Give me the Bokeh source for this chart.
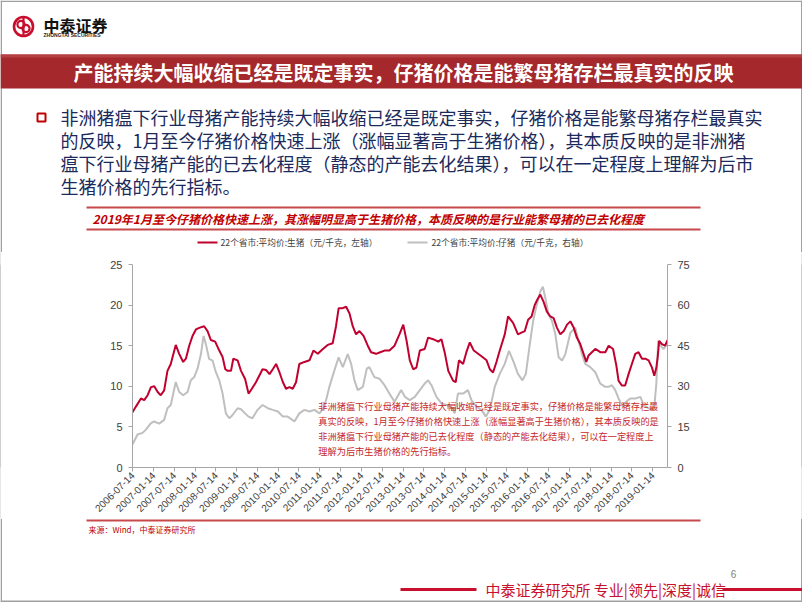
import numpy as np
from datetime import datetime
from math import pi
from bokeh.plotting import figure
from bokeh.models import Range1d, LinearAxis, FixedTicker, DatetimeTickFormatter, Label
from bokeh.layouts import column, row
from bokeh.embed import file_html
from bokeh.resources import INLINE
from bokeh.core.properties import value

# ---------------- data ----------------
hog_dates = [
    "2006-07-14", "2006-08-13", "2006-09-26", "2006-10-25", "2006-11-24", "2006-12-23",
    "2007-01-21", "2007-02-20", "2007-03-19", "2007-04-18", "2007-05-17", "2007-06-15",
    "2007-07-29", "2007-08-28", "2007-10-02", "2007-10-26", "2007-11-24", "2007-12-23",
    "2008-01-22", "2008-02-20", "2008-04-03", "2008-05-03", "2008-06-01", "2008-07-09",
    "2008-08-14", "2008-09-12", "2008-10-06", "2008-10-27", "2008-11-25", "2008-12-15",
    "2009-01-22", "2009-02-21", "2009-03-29", "2009-04-28", "2009-05-27", "2009-07-02",
    "2009-07-31", "2009-08-29", "2009-09-30", "2009-10-29", "2009-11-27", "2009-12-26",
    "2010-01-25", "2010-02-24", "2010-03-23", "2010-04-22", "2010-05-21", "2010-06-19",
    "2010-07-18", "2010-09-01", "2010-10-15", "2010-11-19", "2010-12-27", "2011-02-10",
    "2011-03-24", "2011-05-07", "2011-06-05", "2011-06-28", "2011-07-28", "2011-09-02",
    "2011-10-01", "2011-10-30", "2011-11-28", "2011-12-28", "2012-02-02", "2012-03-10",
    "2012-04-08", "2012-05-22", "2012-06-27", "2012-08-04", "2012-09-16", "2012-10-31",
    "2012-12-13", "2013-01-16", "2013-02-14", "2013-03-14", "2013-04-13", "2013-05-11",
    "2013-06-10", "2013-07-23", "2013-08-22", "2013-10-05", "2013-11-19", "2013-12-17",
    "2014-01-17", "2014-02-15", "2014-03-29", "2014-04-21", "2014-05-20", "2014-06-25",
    "2014-07-24", "2014-08-23", "2014-09-27", "2014-11-04", "2014-12-12", "2015-01-17",
    "2015-02-15", "2015-03-15", "2015-04-14", "2015-05-13", "2015-06-26", "2015-07-25",
    "2015-09-07", "2015-10-20", "2015-11-19", "2015-12-19", "2016-01-17", "2016-02-16",
    "2016-03-15", "2016-04-04", "2016-05-03", "2016-06-01", "2016-06-30", "2016-07-30",
    "2016-08-28", "2016-09-27", "2016-10-26", "2016-11-25", "2016-12-24", "2017-01-22",
    "2017-02-21", "2017-03-20", "2017-04-19", "2017-05-18", "2017-06-11", "2017-07-01",
    "2017-07-30", "2017-08-29", "2017-10-12", "2017-11-25", "2017-12-24", "2018-02-01",
    "2018-03-02", "2018-03-21", "2018-04-19", "2018-05-18", "2018-06-17", "2018-07-16",
    "2018-08-15", "2018-09-13", "2018-10-13", "2018-11-11", "2018-12-10", "2019-01-09",
    "2019-01-29", "2019-02-16", "2019-02-28", "2019-03-13", "2019-04-06", "2019-05-04",
    "2019-05-25",
]
hog_prices = [
    6.8, 7.5, 8.5, 8.3, 8.9, 9.9,
    10.0, 9.3, 8.9, 9.5, 11.9, 12.75,
    15.1, 14.0, 13.0, 13.4, 15.0, 16.2,
    17.0, 17.2, 17.4, 16.8, 15.7, 15.5,
    14.4, 13.6, 12.1, 11.9, 11.9, 13.4,
    13.2, 11.9, 10.9, 9.1, 9.7, 10.5,
    11.3, 12.1, 12.0, 11.5, 12.1, 12.75,
    11.7, 10.5, 9.7, 9.9, 9.7, 10.5,
    12.75, 13.0, 13.2, 14.4, 14.0, 14.6,
    15.1, 15.3, 17.4, 19.6, 19.6, 19.8,
    19.0, 17.4, 16.4, 16.8, 16.2, 15.0,
    14.2, 14.0, 14.2, 14.4, 14.4, 15.0,
    16.4, 17.6, 15.6, 13.2, 12.1, 12.3,
    14.4, 14.6, 16.0, 15.8, 15.5, 15.8,
    14.0, 11.9, 10.7, 10.5, 13.2, 12.75,
    14.2, 15.4, 14.4, 14.0, 13.6, 13.2,
    12.1, 11.7, 13.0, 14.4, 16.4, 18.6,
    17.8, 16.4, 16.6, 16.8, 18.2, 18.6,
    20.0, 20.6, 21.3, 20.4, 19.2, 18.6,
    18.4, 17.2, 16.4, 16.8, 17.6, 18.0,
    17.2, 16.0, 15.2, 14.0, 13.0, 13.8,
    14.2, 14.6, 14.2, 14.2, 15.0, 14.6,
    12.55, 10.7, 10.1, 10.1, 11.5, 12.75,
    14.0, 14.2, 13.4, 13.4, 13.2, 12.3,
    11.3, 12.3, 13.6, 15.6, 15.2, 15.0,
    15.7,
]
piglet_dates = [
    "2006-07-14", "2006-08-27", "2006-10-10", "2006-11-09", "2006-12-23", "2007-01-21",
    "2007-03-05", "2007-04-18", "2007-05-17", "2007-06-15", "2007-07-29", "2007-08-28",
    "2007-10-02", "2007-11-10", "2007-12-08", "2008-01-07", "2008-02-05", "2008-03-06",
    "2008-03-29", "2008-04-18", "2008-05-17", "2008-06-16", "2008-07-15", "2008-08-14",
    "2008-09-12", "2008-10-11", "2008-11-10", "2008-12-09", "2009-01-22", "2009-02-21",
    "2009-03-29", "2009-04-28", "2009-06-01", "2009-07-16", "2009-08-29", "2009-10-14",
    "2009-11-27", "2010-01-11", "2010-02-24", "2010-04-07", "2010-06-05", "2010-07-18",
    "2010-09-01", "2010-10-15", "2010-11-28", "2011-01-11", "2011-02-24", "2011-04-08",
    "2011-05-21", "2011-06-28", "2011-08-04", "2011-09-16", "2011-10-16", "2011-11-14",
    "2011-12-13", "2012-01-27", "2012-03-01", "2012-03-24", "2012-05-07", "2012-06-20",
    "2012-08-04", "2012-09-16", "2012-10-31", "2012-12-28", "2013-01-30", "2013-03-14",
    "2013-04-27", "2013-06-10", "2013-07-23", "2013-08-22", "2013-09-20", "2013-11-03",
    "2013-12-17", "2014-01-31", "2014-03-14", "2014-04-12", "2014-05-11", "2014-06-25",
    "2014-08-07", "2014-09-06", "2014-10-20", "2014-12-03", "2015-01-11", "2015-02-15",
    "2015-03-30", "2015-05-13", "2015-06-26", "2015-08-02", "2015-09-07", "2015-10-20",
    "2015-11-28", "2015-12-28", "2016-02-01", "2016-03-01", "2016-03-29", "2016-05-03",
    "2016-05-26", "2016-06-16", "2016-07-15", "2016-08-14", "2016-09-12", "2016-10-11",
    "2016-11-10", "2016-12-09", "2017-01-22", "2017-03-06", "2017-04-04", "2017-05-04",
    "2017-06-02", "2017-07-16", "2017-08-29", "2017-10-12", "2017-11-25", "2017-12-24",
    "2018-01-22", "2018-02-20", "2018-03-21", "2018-04-28", "2018-05-27", "2018-07-02",
    "2018-08-15", "2018-09-29", "2018-10-27", "2018-12-10", "2019-01-09", "2019-01-29",
    "2019-02-16", "2019-03-04", "2019-03-27", "2019-04-19", "2019-05-25",
]
piglet_prices = [
    8.5, 12.2, 12.8, 14.0, 16.4, 17.0,
    16.2, 17.6, 21.9, 23.1, 31.6, 27.9,
    26.7, 27.9, 32.2, 33.4, 36.5, 41.9,
    48.6, 45.6, 40.1, 39.5, 35.2, 32.2,
    27.3, 20.0, 18.2, 19.4, 21.9, 21.5,
    20.0, 18.8, 18.2, 21.3, 23.1, 21.9,
    21.3, 20.7, 18.8, 18.8, 17.0, 20.0,
    21.3, 20.7, 21.3, 20.0, 22.5, 29.8,
    35.8, 40.7, 37.1, 41.9, 38.3, 32.2,
    28.6, 29.8, 36.5, 37.1, 33.4, 32.8,
    30.4, 27.3, 24.3, 28.6, 26.1, 24.9,
    26.1, 28.6, 31.0, 32.2, 30.4, 26.1,
    23.7, 23.1, 22.5, 20.0, 27.3, 27.3,
    28.6, 24.9, 22.5, 21.3, 18.8, 21.3,
    29.8, 34.6, 38.3, 43.1, 39.5, 34.6,
    32.2, 34.6, 45.6, 54.1, 59.5, 65.0,
    66.8, 62.6, 56.5, 54.1, 49.2, 40.7,
    39.5, 41.9, 49.8, 51.6, 46.8, 41.9,
    38.3, 37.1, 35.2, 31.0, 29.8, 29.8,
    30.4, 28.6, 25.5, 22.5, 24.3, 25.5,
    25.5, 26.1, 23.1, 21.9, 21.3, 22.5,
    31.0, 46.8, 45.0, 43.7, 45.6,
]
x_tick_dates = ["%d-%s-14" % (y, m) for y in range(2006, 2020) for m in ("01", "07")][1:-1]
left_ticks = [0, 5, 10, 15, 20, 25]
right_ticks = [0, 15, 30, 45, 60, 75]

title_text = "产能持续大幅收缩已经是既定事实，仔猪价格是能繁母猪存栏最真实的反映"
bullet_lines = [
    "非洲猪瘟下行业母猪产能持续大幅收缩已经是既定事实，仔猪价格是能繁母猪存栏最真实",
    "的反映，1月至今仔猪价格快速上涨（涨幅显著高于生猪价格），其本质反映的是非洲猪",
    "瘟下行业母猪产能的已去化程度（静态的产能去化结果），可以在一定程度上理解为后市",
    "生猪价格的先行指标。",
]
subtitle_text = "2019年1月至今仔猪价格快速上涨，其涨幅明显高于生猪价格，本质反映的是行业能繁母猪的已去化程度"
legend_labels = ["22个省市:平均价:生猪（元/千克，左轴）", "22个省市:平均价:仔猪（元/千克，右轴）"]
note_lines = [
    "非洲猪瘟下行业母猪产能持续大幅收缩已经是既定事实，仔猪价格是能繁母猪存栏最",
    "真实的反映，1月至今仔猪价格快速上涨（涨幅显著高于生猪价格），其本质反映的是",
    "非洲猪瘟下行业母猪产能的已去化程度（静态的产能去化结果），可以在一定程度上",
    "理解为后市生猪价格的先行指标。",
]
source_text = "来源：Wind，中泰证券研究所"
footer_text = "中泰证券研究所 专业|领先|深度|诚信"
page_number = "6"

# ---------------- styles ----------------
CJK = "Noto Sans CJK SC"
RED = "#C0002F"
GRAY = "#BFBFBF"
BORDER = "#A0A0A0"
NAVY = "#1B2A5B"
BAR = "#A4282C"
W = 802


def deco_fig(h, y0):
    p = figure(width=W, height=h, x_range=Range1d(0, W), y_range=Range1d(y0 + h, y0),
               output_backend="svg", toolbar_location=None, min_border=0,
               x_axis_location=None, y_axis_location=None)
    p.grid.visible = False
    p.outline_line_color = None
    p.background_fill_color = "white"
    p.border_fill_color = "white"
    return p


def txt(p, x, y, s, size, color, font=CJK, style="normal", align="left"):
    p.text(x=[x], y=[y], text=[s], text_font=value(font), text_font_size=size,
           text_color=color, text_font_style=style, text_align=align, text_baseline="middle")


# ---------------- header ----------------
H1 = 252
hd = deco_fig(H1, 0)
hd.segment(x0=[0, 0.75, 801.25], y0=[0.75, 0, 0], x1=[W, 0.75, 801.25], y1=[0.75, H1, H1],
           line_color=BORDER, line_width=1.5)
# logo
hd.circle(x=[23], y=[26], radius=9.5, fill_color=None, line_color="#C8102E", line_width=2.6)
hd.circle(x=[20.5, 25.5], y=[24, 28], radius=3.6, fill_color=None, line_color="#C8102E", line_width=2.2)
hd.segment(x0=[23], y0=[17], x1=[23], y1=[35], line_color="#C8102E", line_width=2.2)
txt(hd, 43, 24, "中泰证券", "16px", "#111111", style="bold")
txt(hd, 43, 34.5, "ZHONGTAI SECURITIES", "5px", "#222222", font="Liberation Sans", style="bold")
# title bar
hd.quad(left=[0], right=[W], top=[54], bottom=[88], fill_color=BAR, line_color=None)
hd.quad(left=[0], right=[W], top=[54], bottom=[57], fill_color="#B54044", line_color=None)
txt(hd, 403, 71.5, title_text, "20px", "white", style="bold", align="center")
# bullet
hd.rect(x=[41], y=[117], width=8, height=8, fill_color=None, line_color="#C00000", line_width=2)
for i, line in enumerate(bullet_lines):
    txt(hd, 60, 116 + 23 * i, line, "18px", NAVY)
# chart subtitle box
hd.segment(x0=[86, 86], y0=[207, 229], x1=[700, 700], y1=[207, 229], line_color="#C8494B", line_width=2)
txt(hd, 92, 218, subtitle_text, "12px", "#C00000", style="bold italic")
# legend
hd.segment(x0=[197], y0=[242], x1=[217], y1=[242], line_color=RED, line_width=2)
txt(hd, 220, 242, legend_labels[0], "8.7px", "#404040")
hd.segment(x0=[407], y0=[242], x1=[427], y1=[242], line_color=GRAY, line_width=2)
txt(hd, 431, 242, legend_labels[1], "8.7px", "#404040")

# ---------------- chart ----------------
H2 = 266
to_dt = lambda lst: np.array(lst, dtype="datetime64[ms]")
xr = Range1d(start=datetime(2006, 7, 14), end=datetime(2019, 5, 25))
ch = figure(width=800, height=H2, x_axis_type="datetime", x_range=xr, y_range=Range1d(0, 25),
            output_backend="svg", toolbar_location=None,
            min_border_left=131, min_border_right=134, min_border_top=12, min_border_bottom=48)
ch.grid.visible = False
ch.outline_line_color = None
ch.extra_y_ranges = {"right": Range1d(0, 75)}
ch.add_layout(LinearAxis(y_range_name="right"), "right")

ch.line(to_dt(piglet_dates), piglet_prices, y_range_name="right", line_color=GRAY, line_width=2)
ch.line(to_dt(hog_dates), hog_prices, line_color=RED, line_width=2)

for ax in ch.axis:
    ax.axis_line_color = "#A6A6A6"
    ax.major_tick_line_color = "#A6A6A6"
    ax.minor_tick_line_color = None
    ax.major_tick_out = 4
    ax.major_tick_in = 0
    ax.major_label_text_font = "Liberation Sans"
    ax.major_label_text_color = "#404040"
    ax.major_label_text_font_size = "11px"

ch.xaxis.ticker = FixedTicker(ticks=list(to_dt(x_tick_dates).astype("int64")))
fmt = "%Y-%m-%d"
ch.xaxis.formatter = DatetimeTickFormatter(days=fmt, months=fmt, years=fmt)
ch.xaxis.major_label_orientation = pi / 4
ch.xaxis.major_label_text_font_size = "10px"
ch.xaxis.major_label_standoff = 2
ch.yaxis[0].ticker = FixedTicker(ticks=left_ticks)
ch.yaxis[1].ticker = FixedTicker(ticks=right_ticks)
ch.yaxis.major_label_standoff = 6

note_x = np.datetime64("2011-01-01", "ms").astype("int64")
note_y = [7.55, 5.72, 3.9, 2.08]
for s, yv in zip(note_lines, note_y):
    ch.add_layout(Label(x=note_x, y=yv, text=s, text_font=CJK, text_font_size="9.2px",
                        text_color="#C62828", text_baseline="middle"))


def strip(h):
    s = figure(width=1, height=h, output_backend="svg", toolbar_location=None, min_border=0,
               x_axis_location=None, y_axis_location=None)
    s.grid.visible = False
    s.outline_line_color = None
    s.background_fill_color = BORDER
    s.border_fill_color = BORDER
    return s


chart_row = row(strip(H2), ch, strip(H2))

# ---------------- footer ----------------
H3 = 602 - H1 - H2
ft = deco_fig(H3, H1 + H2)
ft.segment(x0=[0.75, 801.25, 0], y0=[H1 + H2, H1 + H2, 600.75], x1=[0.75, 801.25, W], y1=[602, 602, 600.75],
           line_color=BORDER, line_width=1.5)
ft.segment(x0=[86], y0=[520], x1=[700], y1=[520], line_color="#C8494B", line_width=2)
txt(ft, 88, 529, source_text, "8px", "#C00000")
txt(ft, 733, 573, page_number, "10px", "#7F7F7F", font="Liberation Sans", align="center")
ft.segment(x0=[400, 722], y0=[589, 589], x1=[476, W], y1=[589, 589], line_color="#C8102E", line_width=3)
txt(ft, 485, 589, footer_text, "15px", "#C8102E")

layout = column(hd, chart_row, ft)
open("out.html", "w").write(file_html(layout, INLINE))
